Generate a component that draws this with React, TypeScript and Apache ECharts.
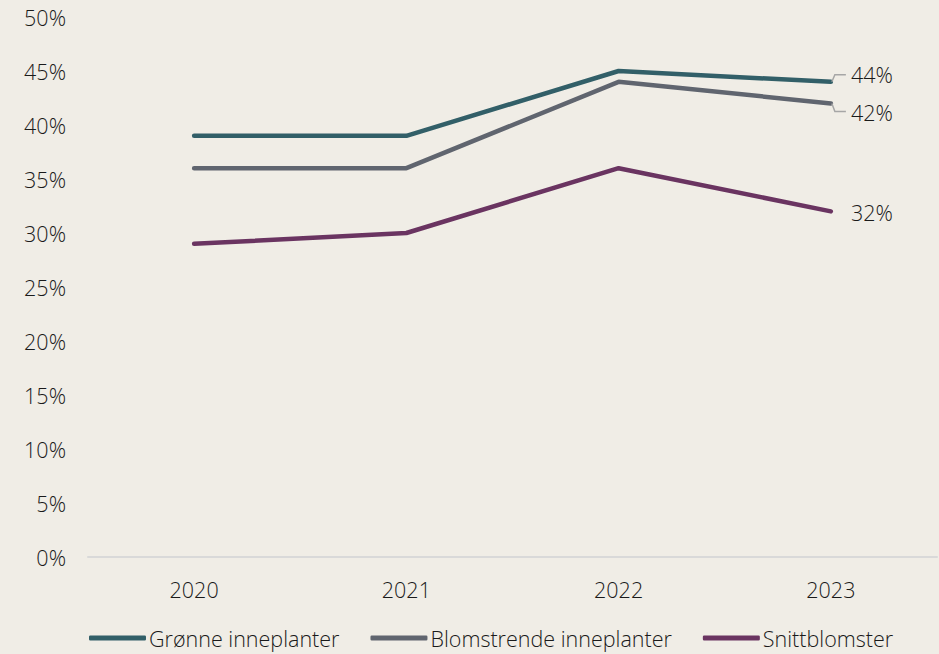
import React, { useEffect, useRef } from "react";
import * as echarts from "echarts";

const years = ["2020", "2021", "2022", "2023"];
const seriesNames = ["Grønne inneplanter", "Blomstrende inneplanter", "Snittblomster"];
const gronne = [39, 39, 45, 44];
const blomstrende = [36, 36, 44, 42];
const snitt = [29, 30, 36, 32];
const colors = ["#325f68", "#60656f", "#6a3461"];
const labelShifts = [-7, 9, 1];

export default function App() {
  const ref = useRef<HTMLDivElement>(null);
  useEffect(() => {
    if (!ref.current) return;
    const chart = echarts.init(ref.current, null, { renderer: "svg" });
    const font = "'Open Sans', 'Noto Sans', sans-serif";
    const fs = 21.5;
    const fw = 300;
    const txt = "#1a1a1a";
    const dataSets = [gronne, blomstrende, snitt];
    const series = dataSets.map((vals, i) => ({
      name: seriesNames[i],
      type: "line",
      showSymbol: true,
      symbol: "circle",
      symbolSize: 0,
      lineStyle: { width: 4.5, color: colors[i], cap: "round" },
      itemStyle: { color: colors[i] },
      labelLayout: { dy: labelShifts[i] },
      data: vals.map((v, j) =>
        j === vals.length - 1
          ? {
              value: v,
              label: {
                show: true,
                position: "right",
                distance: 20,
                formatter: "{c}%",
                color: txt,
                fontSize: fs,
                fontWeight: fw,
                fontFamily: font,
              },
            }
          : v
      ),
    }));
    chart.setOption({
      animation: false,
      backgroundColor: "#f0ede6",
      textStyle: { fontFamily: font },
      grid: { left: 88, right: 2, top: 17, bottom: 97 },
      legend: {
        bottom: 0,
        left: 84,
        icon: "roundRect",
        itemWidth: 57,
        itemHeight: 5,
        itemGap: 31,
        textStyle: { fontSize: fs, fontWeight: fw, color: txt, fontFamily: font, padding: [0, 0, 0, -2] },
        data: seriesNames,
      },
      xAxis: {
        type: "category",
        data: years,
        boundaryGap: true,
        axisLine: { lineStyle: { color: "#d9d9d9", width: 2 } },
        axisTick: { show: false },
        axisLabel: { fontSize: fs, fontWeight: fw, color: txt, margin: 21, fontFamily: font },
      },
      yAxis: {
        type: "value",
        min: 0,
        max: 50,
        interval: 5,
        splitLine: { show: false },
        axisLine: { show: false },
        axisTick: { show: false },
        axisLabel: {
          formatter: "{value}%",
          fontSize: fs,
          fontWeight: fw,
          color: txt,
          margin: 22,
          fontFamily: font,
        },
      },
      series,
    });
    // leader lines for the two upper end labels, positioned from the data via the chart's scales
    const last = years.length - 1;
    const leaders = [
      { vals: gronne, dir: -1 },
      { vals: blomstrende, dir: 1 },
    ].map(({ vals, dir }) => {
      const p = chart.convertToPixel({ gridIndex: 0 }, [last, vals[last]]) as number[];
      const dy = dir < 0 ? -7 : 8;
      return {
        type: "polyline",
        silent: true,
        shape: {
          points: [
            [p[0] + 1, p[1]],
            [p[0] + 4, p[1] + dy],
            [p[0] + 15, p[1] + dy],
          ],
        },
        style: { stroke: "#a6a6a6", lineWidth: 1.5, fill: "none" },
        z: 10,
      };
    });
    chart.setOption({ graphic: leaders });
    return () => chart.dispose();
  }, []);
  return <div ref={ref} style={{ width: 939, height: 654, position: "absolute", left: 0, top: 0 }} />;
}
